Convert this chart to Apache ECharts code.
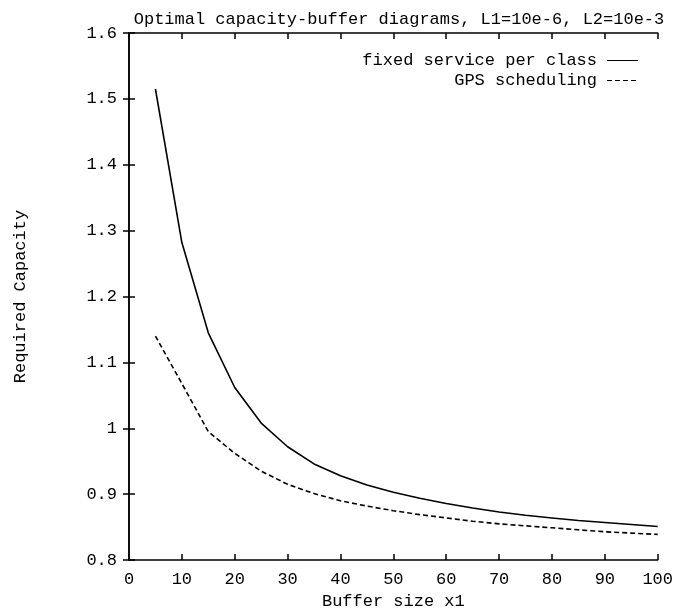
<!DOCTYPE html>
<html>
<head>
<meta charset="utf-8">
<script src="https://cdn.jsdelivr.net/npm/echarts@6/dist/echarts.min.js"></script>
<style>html,body{margin:0;padding:0;background:#fff}#c{width:676px;height:615px}</style>
</head>
<body>
<div id="c"></div>
<script>
const bufferSizes = [5,10,15,20,25,30,35,40,45,50,55,60,65,70,75,80,85,90,95,100];
const fixedService = [1.515,1.282,1.145,1.062,1.008,0.972,0.946,0.928,0.914,0.903,0.894,0.886,0.879,0.873,0.868,0.864,0.860,0.857,0.854,0.851];
const gpsScheduling = [1.140,1.068,0.995,0.962,0.935,0.915,0.901,0.890,0.882,0.875,0.869,0.864,0.859,0.855,0.852,0.849,0.846,0.843,0.841,0.839];
const xTicks = [0,10,20,30,40,50,60,70,80,90,100];
const yTicks = [0.8,0.9,1,1.1,1.2,1.3,1.4,1.5,1.6];

const FONT = 'Liberation Mono';
const txt = {fontFamily: FONT, fontSize: 17, color: '#000'};
const axLine = {show: true, lineStyle: {color: '#000', width: 1.5}};
const tick = {show: true, inside: true, length: 6, lineStyle: {color: '#000', width: 1.5}};

const solidIcon = 'path://M0,0h31v1h-31z';
const dashIcon = 'path://M0,0h5v1h-5z M8,0h5v1h-5z M16,0h5v1h-5z M24,0h5v1h-5z M31,0h0.01v1h-0.01z';

const chart = echarts.init(document.getElementById('c'), null, {renderer: 'canvas'});
chart.setOption({
  animation: false,
  backgroundColor: '#fff',
  title: {
    text: 'Optimal capacity-buffer diagrams, L1=10e-6, L2=10e-3',
    left: 394, textAlign: 'center', top: 6,
    textStyle: Object.assign({}, txt, {fontWeight: 'normal'})
  },
  legend: {
    orient: 'vertical', right: 33, top: 47, align: 'right',
    itemWidth: 31, itemHeight: 2, itemGap: 3,
    textStyle: Object.assign({}, txt, {padding: [0, 5, 0, 0]}),
    data: [
      {name: 'fixed service per class', icon: solidIcon},
      {name: 'GPS scheduling', icon: dashIcon}
    ]
  },
  grid: {left: 129, right: 17, top: 33, bottom: 46},
  xAxis: [{
    type: 'value', min: 0, max: 100, interval: 10,
    name: 'Buffer size x1', nameLocation: 'middle', nameGap: 27,
    nameTextStyle: txt,
    axisLine: axLine, axisTick: tick,
    axisLabel: Object.assign({}, txt, {margin: 11, formatter: v => xTicks.includes(v) ? String(v) : ''}),
    splitLine: {show: false}
  }, {
    type: 'value', min: 0, max: 100, interval: 10, position: 'top',
    axisLine: axLine, axisTick: tick, axisLabel: {show: false}, splitLine: {show: false}
  }],
  yAxis: [{
    type: 'value', min: 0.8, max: 1.6, interval: 0.1,
    name: 'Required Capacity', nameLocation: 'middle', nameGap: 100,
    nameTextStyle: txt,
    axisLine: axLine, axisTick: tick,
    axisLabel: Object.assign({}, txt, {margin: 12, formatter: v => {
      const r = Math.round(v * 10) / 10;
      return yTicks.includes(r) ? String(r) : '';
    }}),
    splitLine: {show: false}
  }, {
    type: 'value', min: 0.8, max: 1.6, interval: 0.1, position: 'right',
    axisLine: axLine, axisTick: tick, axisLabel: {show: false}, splitLine: {show: false}
  }],
  series: [{
    name: 'fixed service per class', type: 'line', symbol: 'none',
    data: bufferSizes.map((x, i) => [x, fixedService[i]]),
    lineStyle: {color: '#000', width: 1.6, type: 'solid'},
    itemStyle: {color: '#000'}
  }, {
    name: 'GPS scheduling', type: 'line', symbol: 'none',
    data: bufferSizes.map((x, i) => [x, gpsScheduling[i]]),
    lineStyle: {color: '#000', width: 1.6, type: [5, 3]},
    itemStyle: {color: '#000'}
  }]
});
</script>
</body>
</html>
